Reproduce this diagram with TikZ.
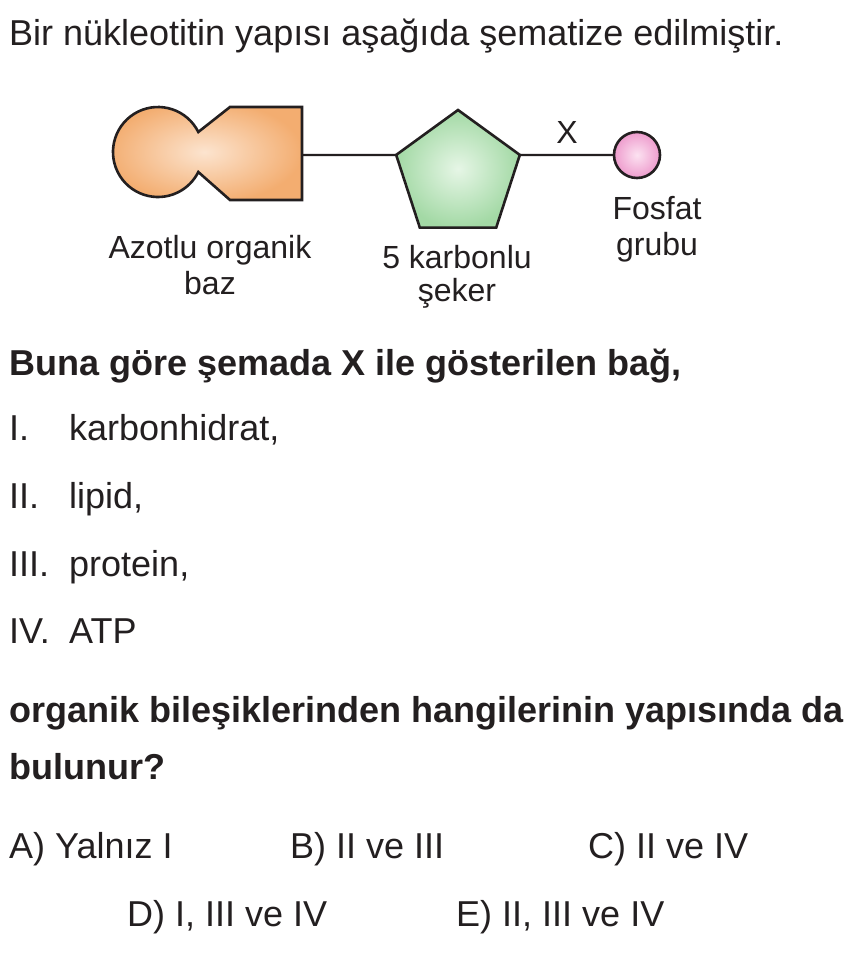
\documentclass[tikz,border=0pt]{standalone}
\usepackage{fontspec}
\setmainfont{Liberation Sans}
\usetikzlibrary{shapes.geometric,calc}
\definecolor{ink}{HTML}{231F20}
\definecolor{orOut}{HTML}{F3AD70}
\definecolor{orIn}{HTML}{FCE4CF}
\definecolor{grOut}{HTML}{A3D9A5}
\definecolor{grIn}{HTML}{E6F6E6}
\definecolor{pkOut}{HTML}{EE9CCD}
\definecolor{pkIn}{HTML}{FCE2F1}
\tikzset{
  txt/.style={anchor=base west, inner sep=0pt, text=ink, font=\fontsize{36}{43}\selectfont},
  btxt/.style={txt, font=\fontsize{36}{43}\selectfont\bfseries},
  lbl/.style={anchor=base, inner sep=0pt, text=ink, font=\fontsize{32}{36}\selectfont},
  shapeline/.style={draw=ink, line width=2.6pt, line join=miter},
  bond/.style={draw=ink, line width=2.2pt},
}
\begin{document}
\begin{tikzpicture}[x=1pt,y=1pt]
\useasboundingbox (0,0) rectangle (865,-958);
\fill[white] (0,0) rectangle (865,-958);

% title
\node[txt] (title) at (9,-46) {Bir nükleotitin yapısı aşağıda şematize edilmiştir.};

% nitrogenous base
\shade[shapeline, inner color=orIn, outer color=orOut]
  (198.3,-132) arc[start angle=26.4, end angle=333.6, radius=45]
  -- (230,-200) -- (302,-200) -- (302,-107) -- (230,-107) -- cycle;
\coordinate (baseR) at (302,-155);

% sugar pentagon
\coordinate (sc) at (458,-175);
\coordinate (sugarL) at ($(sc)+(162:65)$);
\coordinate (sugarR) at ($(sc)+(18:65)$);
\coordinate (sugarT) at ($(sc)+(90:65)$);
\coordinate (sugarBL) at ($(sc)+(234:65)$);
\coordinate (sugarBR) at ($(sc)+(306:65)$);
\shade[shapeline, inner color=grIn, outer color=grOut]
  (sugarT) -- (sugarL) -- (sugarBL) -- (sugarBR) -- (sugarR) -- cycle;

% phosphate
\node[circle, minimum size=46pt, inner sep=0pt, outer sep=0pt, shapeline,
      inner color=pkIn, outer color=pkOut] (fosfat) at (637,-155) {};

% bonds
\draw[bond] (baseR) -- (sugarL);
\draw[bond] (sugarR) -- (fosfat.west);

% labels
\node[lbl] (xlbl) at (567,-143) {X};
\node[lbl] (fos1) at (657,-219) {Fosfat};
\node[lbl] (fos2) at (657,-255) {grubu};
\node[lbl] (az1) at (210,-258) {Azotlu organik};
\node[lbl] (az2) at (210,-294) {baz};
\node[lbl] (sk1) at (457,-268) {5 karbonlu};
\node[lbl] (sk2) at (457,-301) {şeker};

% question
\node[btxt] (q1) at (9,-375) {Buna göre şemada X ile gösterilen bağ,};
\node[txt] (n1) at (9,-440) {I.};
\node[txt] (i1) at (69,-440) {karbonhidrat,};
\node[txt] (n2) at (9,-508) {II.};
\node[txt] (i2) at (69,-508) {lipid,};
\node[txt] (n3) at (9,-576) {III.};
\node[txt] (i3) at (69,-576) {protein,};
\node[txt] (n4) at (9,-643) {IV.};
\node[txt] (i4) at (69,-643) {ATP};
\node[btxt] (q2) at (9,-722) {organik bileşiklerinden hangilerinin yapısında da};
\node[btxt] (q3) at (9,-779) {bulunur?};

% answers
\node[txt] (a) at (9,-858) {A) Yalnız I};
\node[txt] (b) at (290,-858) {B) II ve III};
\node[txt] (c) at (588,-858) {C) II ve IV};
\node[txt] (d) at (127,-926) {D) I, III ve IV};
\node[txt] (e) at (456,-926) {E) II, III ve IV};
\end{tikzpicture}
\end{document}
